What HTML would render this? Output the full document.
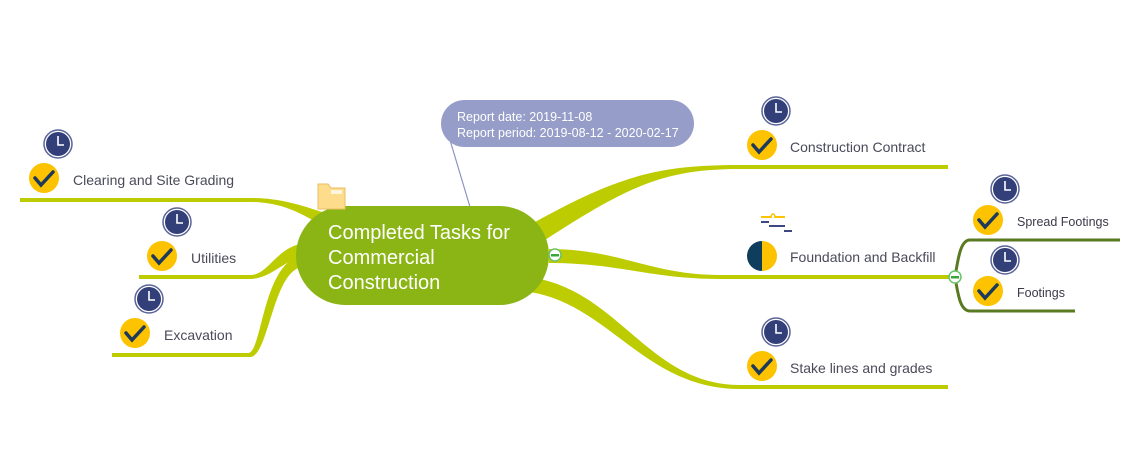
<!DOCTYPE html>
<html><head><style>
html,body{margin:0;padding:0;background:#fff;}
svg{display:block;}
text{font-family:"Liberation Sans",sans-serif;}
</style></head><body>
<svg width="1142" height="462" viewBox="0 0 1142 462" xmlns="http://www.w3.org/2000/svg">
<defs>
<g id="clk"><circle r="14" fill="#fff" stroke="#5a6497" stroke-width="1.5"/><circle r="12" fill="#323f78"/><path d="M0,-8 V1 H6" stroke="#fff" stroke-width="1.6" fill="none"/></g>
<g id="chk"><circle r="15" fill="#fdc300"/><path d="M-9,0 L-3,7 L9,-6" stroke="#1d3a5a" stroke-width="3.5" fill="none" stroke-linecap="round"/></g>
</defs>
<g fill="#bccc00">
<path d="M20,198 H250 C280,198 300,205 322,212 L316,222 C298,212 280,202 250,202 H20 z"/>
<path d="M139,275 H250 C268,275 275,250 300,244 L300,258 C285,260 270,279 250,279 H139 z"/>
<path d="M112,353 H248 C262,353 262,270 298,256 L298,268 C272,280 268,357 250,357 H112 z"/>
<path d="M535,222 C620,175 660,165 740,165 H948 v4 H740 C665,169 630,185 545,240 z"/>
<path d="M549,249 C620,249 650,275 720,275 H955 v4 H720 C650,279 620,263 549,263 z"/>
<path d="M535,278 C620,293 650,385 740,385 H948 v4 H740 C645,389 610,305 530,292 z"/>
</g>
<path d="M1120,240 H970 C960,240 958,260 955,277 C958,294 960,311 970,311 H1075" fill="none" stroke="#5a7a22" stroke-width="3"/>
<line x1="447" y1="130" x2="470" y2="207" stroke="#8b93c4" stroke-width="1.2"/>
<rect x="441" y="100" width="253" height="47" rx="23.5" fill="#959dc8"/>
<text x="457" y="121" font-size="12.5" fill="#fff">Report date: 2019-11-08</text>
<text x="457" y="137" font-size="12.5" fill="#fff">Report period: 2019-08-12 - 2020-02-17</text>
<rect x="296" y="206" width="253" height="99" rx="49.5" fill="#8ab514"/>
<text x="328" y="239" font-size="20" fill="#fff">Completed Tasks for</text>
<text x="328" y="264" font-size="20" fill="#fff">Commercial</text>
<text x="328" y="289" font-size="20" fill="#fff">Construction</text>
<g><path d="M318,184 h10 l3,4 h14 v21 h-27 z" fill="#fddc8c" stroke="#e9be63"/><rect x="331" y="190" width="11" height="4" fill="#fff" opacity=".7"/></g>
<circle cx="555" cy="255" r="6" fill="#fff" stroke="#6cc26c" stroke-width="1.5"/><rect x="551" y="254" width="8" height="2.5" fill="#3aa63a"/>
<circle cx="955" cy="277" r="6" fill="#fff" stroke="#6cc26c" stroke-width="1.5"/><rect x="951" y="276" width="8" height="2.5" fill="#3aa63a"/>
<use href="#clk" x="58" y="144"/><use href="#chk" x="44" y="178"/>
<text x="73" y="185" font-size="14" fill="#4a4a5a">Clearing and Site Grading</text>
<use href="#clk" x="177" y="222"/><use href="#chk" x="162" y="256"/>
<text x="191" y="263" font-size="14" fill="#4a4a5a">Utilities</text>
<use href="#clk" x="149" y="299"/><use href="#chk" x="135" y="333"/>
<text x="164" y="340" font-size="14" fill="#4a4a5a">Excavation</text>
<use href="#clk" x="776" y="111"/><use href="#chk" x="762" y="145"/>
<text x="790" y="152" font-size="14" fill="#4a4a5a">Construction Contract</text>
<g fill="none" stroke-width="2"><path d="M761,217 h10 M775,217 h10" stroke="#fdc300"/><path d="M771,218 q0,-4 2,-4 q2,0 2,4" stroke="#fdc300" stroke-width="1.5"/><path d="M761,222 h8 M769,226 h16 M784,231 h8" stroke="#3c4a80"/></g>
<path d="M762,241 a15,15 0 0 0 0,30 z" fill="#0f3d5e"/><path d="M762,241 a15,15 0 0 1 0,30 z" fill="#fdc300"/>
<text x="790" y="262" font-size="14" fill="#4a4a5a">Foundation and Backfill</text>
<use href="#clk" x="776" y="332"/><use href="#chk" x="762" y="366"/>
<text x="790" y="373" font-size="14" fill="#4a4a5a">Stake lines and grades</text>
<use href="#clk" x="1005" y="189"/><use href="#chk" x="988" y="220"/>
<text x="1017" y="226" font-size="12.5" fill="#3a3a4a">Spread Footings</text>
<use href="#clk" x="1005" y="260"/><use href="#chk" x="988" y="291"/>
<text x="1017" y="297" font-size="12.5" fill="#3a3a4a">Footings</text>
</svg>
</body></html>
